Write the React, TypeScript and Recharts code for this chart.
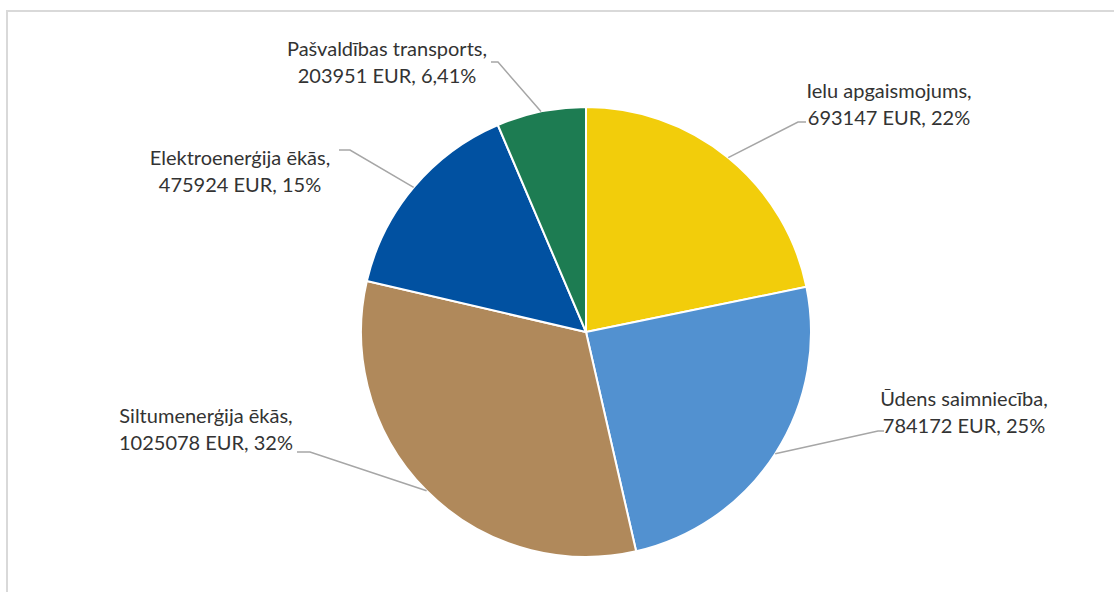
import React from "react";
import { PieChart, Pie, Cell } from "recharts";

const categories = [
  "Ielu apgaismojums",
  "Ūdens saimniecība",
  "Siltumenerģija ēkās",
  "Elektroenerģija ēkās",
  "Pašvaldības transports",
];
const values = [693147, 784172, 1025078, 475924, 203951];
const percentLabels = ["22%", "25%", "32%", "15%", "6,41%"];
const colors = ["#F2CD0B", "#5291D0", "#B0895B", "#0151A1", "#1D7C52"];

// label layout: text center x, first line center y, elbow point, horizontal end x
const labelLayout = [
  { tx: 889, ty: 90, ex: 798, ey: 122, hx: 806 },
  { tx: 964, ty: 398, ex: 878, ey: 431, hx: 884 },
  { tx: 206, ty: 415, ex: 310, ey: 452, hx: 297 },
  { tx: 240, ty: 157, ex: 350, ey: 150, hx: 339 },
  { tx: 387, ty: 48, ex: 498, ey: 62, hx: 491 },
];

const data = categories.map((name, i) => ({
  name,
  value: values[i],
  pct: percentLabels[i],
}));

const RAD = Math.PI / 180;

const renderLabel = (props: any) => {
  const { cx, cy, midAngle, outerRadius, index } = props;
  const L = labelLayout[index];
  const px = cx + outerRadius * Math.cos(-midAngle * RAD);
  const py = cy + outerRadius * Math.sin(-midAngle * RAD);
  const d = data[index];
  return (
    <g key={`lbl-${index}`}>
      <polyline
        points={`${px},${py} ${L.ex},${L.ey} ${L.hx},${L.ey}`}
        fill="none"
        stroke="#A6A6A6"
        strokeWidth={1.5}
      />
      <text
        x={L.tx}
        y={L.ty}
        textAnchor="middle"
        dominantBaseline="central"
        fill="#333333"
        fontSize={20}
        fontFamily="Lato, 'Open Sans', sans-serif"
      >
        <tspan x={L.tx} dy={0}>{`${d.name},`}</tspan>
        <tspan x={L.tx} dy={27}>{`${d.value} EUR, ${d.pct}`}</tspan>
      </text>
    </g>
  );
};

export default function App() {
  return (
    <div
      style={{
        position: "absolute",
        left: 0,
        top: 0,
        width: 1114,
        height: 592,
        background: "#ffffff",
        overflow: "hidden",
      }}
    >
      <div
        style={{
          position: "absolute",
          left: 6,
          top: 10,
          width: 1120,
          height: 600,
          border: "2px solid #D9D9D9",
          boxSizing: "border-box",
        }}
      />
      <div style={{ position: "absolute", left: 0, top: 0 }}>
        <PieChart
          width={1114}
          height={592}
          margin={{ top: 0, right: 0, bottom: 0, left: 0 }}
        >
          <Pie
            data={data}
            dataKey="value"
            nameKey="name"
            cx={586}
            cy={332}
            outerRadius={225}
            startAngle={90}
            endAngle={-270}
            stroke="#FFFFFF"
            strokeWidth={2}
            labelLine={false}
            label={renderLabel}
            isAnimationActive={false}
          >
            {data.map((d, i) => (
              <Cell key={d.name} fill={colors[i]} />
            ))}
          </Pie>
        </PieChart>
      </div>
    </div>
  );
}
